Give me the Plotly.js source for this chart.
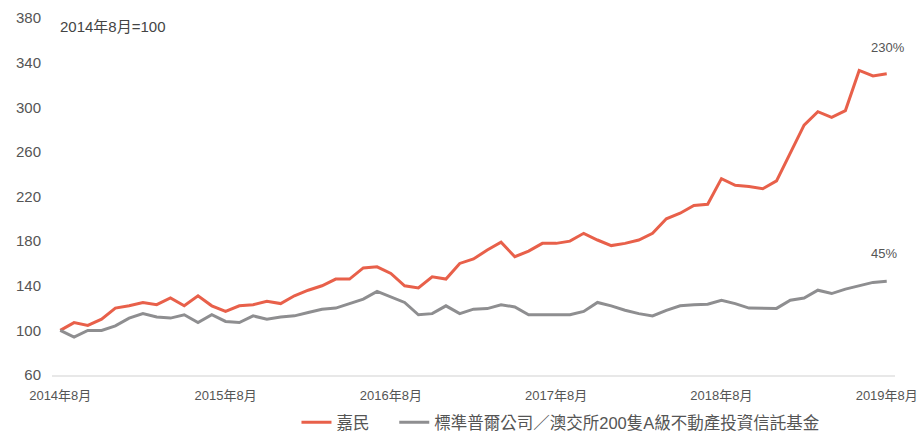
<!DOCTYPE html>
<html>
<head>
<meta charset="utf-8">
<script src="https://cdn.plot.ly/plotly-3.0.1.min.js"></script>
<style>
  html, body { margin: 0; padding: 0; background: #fff; }
  #chart { width: 921px; height: 431px; }
</style>
</head>
<body>
<div id="chart"></div>
<script>
// monthly index, 2014年8月 = 100
const months = Array.from({ length: 61 }, (_, i) => i);
const tickPos = [0, 12, 24, 36, 48, 60];
const tickLabels = ["2014年8月", "2015年8月", "2016年8月", "2017年8月", "2018年8月", "2019年8月"];

const goodman = [
  100, 107, 104.5, 110, 120, 122, 125, 123, 129, 122, 131, 122, 117, 122, 123, 126, 124, 131, 136, 140,
  146, 146, 156, 157, 151, 140, 138, 148, 146, 160, 164, 172, 179, 166, 171, 178, 178, 180, 187, 181,
  176, 178, 181, 187, 200, 205, 212, 213, 236, 230, 229, 227, 234, 259, 284, 296, 291, 297, 333, 328, 330
];
const asxReit = [
  100, 94, 100, 100, 104, 111, 115, 112, 111, 114, 107, 114, 108, 107, 113, 110, 112, 113, 116, 119,
  120, 124, 128, 135, 130, 125, 114, 115, 122, 115, 119, 119.5, 123, 121, 114, 114, 114, 114, 117, 125,
  122, 118, 115, 113, 118, 122, 123, 123.5, 127, 124, 120, 119.7, 119.7, 127, 129, 136, 133, 137, 140, 143, 144
];

const names = ["嘉民", "標準普爾公司／澳交所200隻A級不動產投資信託基金"];
const endLabels = ["230%", "45%"];

const FONT = '"Liberation Sans", Arial, "Noto Sans CJK TC", sans-serif';
const ORANGE = "#e8604a";
const GREY = "#8e8e90";

let traces = [
  {
    x: months, y: goodman, type: "scatter", mode: "lines", name: names[0],
    line: { color: ORANGE, width: 3 }, legend: "legend"
  },
  {
    x: months, y: asxReit, type: "scatter", mode: "lines", name: names[1],
    line: { color: GREY, width: 3 }, legend: "legend2"
  }
];

let layout = {
  width: 921,
  height: 431,
  margin: { l: 52, r: 26, t: 18, b: 56, autoexpand: false },
  paper_bgcolor: "#fff",
  plot_bgcolor: "#fff",
  font: { family: FONT, color: "#555", size: 13 },
  showlegend: true,
  xaxis: {
    range: [-0.6, 60.6],
    tickvals: tickPos,
    ticktext: tickLabels,
    showgrid: false,
    zeroline: false,
    showline: true,
    linecolor: "#e8e8e8",
    linewidth: 2,
    ticks: "",
    ticklabelstandoff: 7,
    tickfont: { size: 13, color: "#555" }
  },
  yaxis: {
    range: [60, 380],
    tickvals: [60, 100, 140, 180, 220, 260, 300, 340, 380],
    showgrid: false,
    zeroline: false,
    showline: false,
    ticks: "",
    ticklabelstandoff: 10,
    tickfont: { size: 15, color: "#555" }
  },
  legend: {
    orientation: "h", x: 0.29, xanchor: "left", y: -0.084, yanchor: "top",
    font: { size: 16.5, color: "#555" }, bgcolor: "rgba(0,0,0,0)"
  },
  legend2: {
    orientation: "h", x: 0.406, xanchor: "left", y: -0.084, yanchor: "top",
    font: { size: 16.5, color: "#555" }, bgcolor: "rgba(0,0,0,0)"
  },
  annotations: [
    {
      text: "2014年8月=100", xref: "paper", yref: "paper", x: 0.007, y: 0.975,
      xanchor: "left", yanchor: "middle", showarrow: false,
      font: { size: 15, color: "#444" }
    },
    {
      text: endLabels[0], xref: "x", yref: "y", x: 60, y: goodman[goodman.length - 1],
      xanchor: "right", yanchor: "bottom", yshift: 17, xshift: 20, showarrow: false,
      font: { size: 13, color: "#555" }
    },
    {
      text: endLabels[1], xref: "x", yref: "y", x: 60, y: asxReit[asxReit.length - 1],
      xanchor: "right", yanchor: "bottom", yshift: 18, xshift: 12, showarrow: false,
      font: { size: 13, color: "#555" }
    }
  ]
};

Plotly.newPlot("chart", traces, layout, { displayModeBar: false, staticPlot: true });
</script>
</body>
</html>
